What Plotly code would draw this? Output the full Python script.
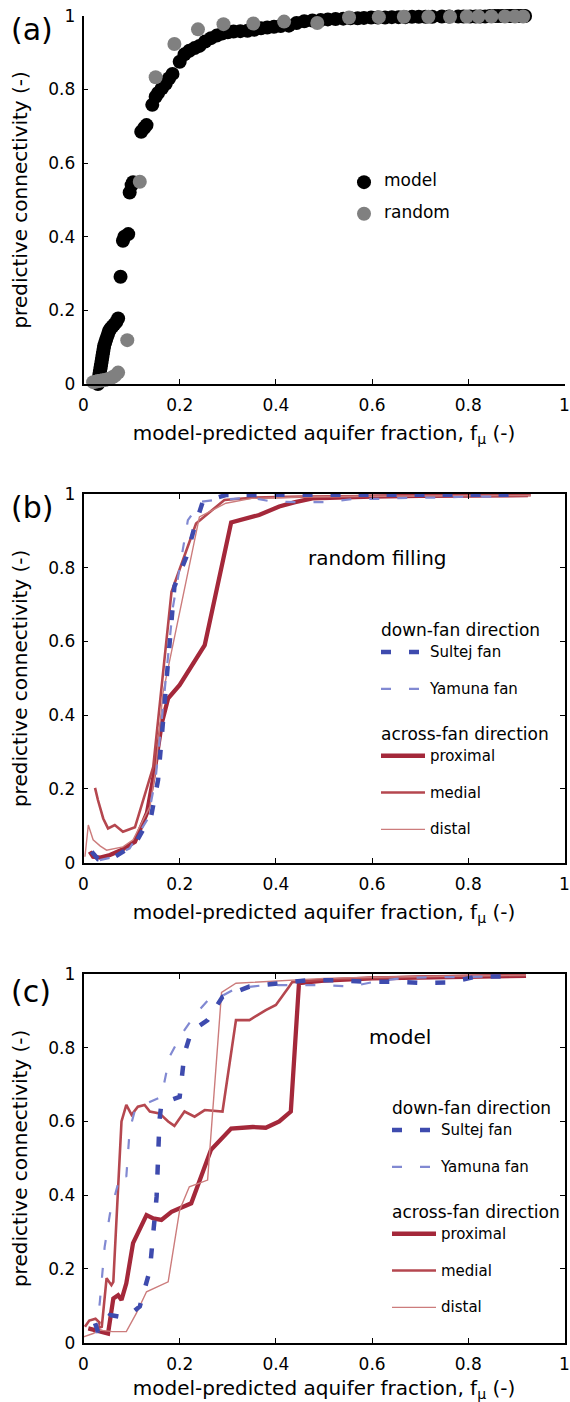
import plotly.graph_objects as go

# ---------------- data ----------------
# panel (a)
model_x = [0.030,0.031,0.032,0.033,0.034,0.035,0.036,0.037,0.038,0.039,0.040,0.041,0.042,0.043,0.045,0.047,0.049,0.051,0.053,0.056,0.060,0.064,0.068,0.072,0.077,0.082,0.085,0.093,0.096,0.100,0.103,0.120,0.126,0.131,0.143,0.150,0.155,0.163,0.171,0.178,0.185,0.200,0.210,0.220,0.231,0.241,0.253,0.265,0.277,0.289,0.300,0.312,0.326,0.341,0.355,0.369,0.382,0.396,0.410,0.427,0.443,0.459,0.476,0.493,0.508,0.524,0.540,0.555,0.570,0.583,0.598,0.612,0.627,0.641,0.655,0.669,0.683,0.697,0.711,0.725,0.745,0.760,0.779,0.790,0.804,0.815,0.825,0.835,0.845,0.855,0.862,0.870,0.878,0.885,0.890,0.897,0.904,0.910,0.915,0.918]
model_y = [0.000,0.008,0.016,0.024,0.032,0.040,0.048,0.056,0.064,0.072,0.080,0.088,0.096,0.104,0.112,0.120,0.128,0.136,0.144,0.150,0.156,0.162,0.168,0.178,0.291,0.389,0.400,0.407,0.520,0.540,0.548,0.685,0.695,0.703,0.758,0.780,0.790,0.803,0.815,0.830,0.842,0.875,0.895,0.905,0.912,0.918,0.930,0.939,0.946,0.952,0.955,0.957,0.958,0.959,0.962,0.966,0.968,0.970,0.972,0.973,0.980,0.985,0.987,0.988,0.990,0.991,0.992,0.993,0.993,0.994,0.995,0.995,0.995,0.996,0.996,0.996,0.997,0.997,0.997,0.997,0.998,0.998,0.998,0.998,0.998,0.998,0.998,0.998,0.999,0.999,0.999,0.999,0.999,0.999,0.999,0.999,0.999,0.999,0.999,0.999]
random_x = [0.020,0.025,0.030,0.035,0.040,0.045,0.050,0.055,0.060,0.065,0.072,0.091,0.117,0.150,0.189,0.238,0.291,0.353,0.417,0.486,0.552,0.614,0.666,0.717,0.762,0.797,0.821,0.848,0.876,0.897,0.914]
random_y = [0.005,0.006,0.008,0.009,0.010,0.011,0.013,0.015,0.018,0.022,0.031,0.119,0.549,0.833,0.923,0.963,0.977,0.979,0.984,0.980,0.995,0.996,0.997,0.997,0.997,0.998,0.998,0.998,0.998,0.998,0.998]

# panel (b) random filling
b_prox_x = [0.013,0.020,0.035,0.055,0.080,0.107,0.132,0.148,0.163,0.176,0.200,0.224,0.252,0.307,0.365,0.407,0.440,0.476,0.510,0.600,0.700,0.800,0.924]
b_prox_y = [0.030,0.016,0.014,0.021,0.035,0.057,0.135,0.251,0.380,0.446,0.482,0.532,0.590,0.923,0.943,0.966,0.978,0.988,0.990,0.993,0.995,0.996,0.997]
b_med_x = [0.024,0.030,0.041,0.051,0.065,0.082,0.107,0.145,0.183,0.234,0.293,0.350,0.450,0.600,0.750,0.930]
b_med_y = [0.203,0.170,0.120,0.093,0.102,0.084,0.096,0.260,0.735,0.920,0.984,0.990,0.993,0.995,0.996,0.997]
b_dist_x = [0.003,0.010,0.020,0.035,0.048,0.082,0.103,0.138,0.150,0.165,0.241,0.296,0.350,0.450,0.600,0.750,0.930]
b_dist_y = [0.016,0.102,0.062,0.045,0.034,0.043,0.062,0.152,0.250,0.459,0.938,0.975,0.988,0.992,0.994,0.995,0.996]
b_sult_x = [0.017,0.030,0.065,0.107,0.141,0.155,0.165,0.179,0.189,0.214,0.231,0.248,0.296,0.400,0.500,0.600,0.700,0.800,0.904]
b_sult_y = [0.030,0.010,0.016,0.050,0.129,0.224,0.378,0.595,0.749,0.830,0.911,0.979,0.997,0.998,0.998,0.998,0.998,0.998,0.998]
b_yam_x = [0.034,0.060,0.096,0.134,0.150,0.162,0.186,0.217,0.245,0.276,0.350,0.393,0.441,0.503,0.566,0.620,0.680,0.735,0.800,0.860]
b_yam_y = [0.007,0.015,0.039,0.120,0.230,0.378,0.694,0.929,0.979,0.984,0.990,0.979,0.978,0.978,0.987,0.987,0.990,0.990,0.993,0.993]

# panel (c) model
c_prox_x = [0.010,0.020,0.035,0.051,0.062,0.072,0.079,0.089,0.103,0.131,0.145,0.162,0.183,0.224,0.265,0.307,0.352,0.379,0.407,0.431,0.448,0.500,0.600,0.700,0.800,0.920]
c_prox_y = [0.039,0.035,0.030,0.025,0.120,0.129,0.116,0.161,0.270,0.346,0.337,0.333,0.355,0.378,0.523,0.581,0.585,0.583,0.600,0.627,0.975,0.982,0.988,0.990,0.993,0.995]
c_med_x = [0.003,0.012,0.025,0.033,0.030,0.038,0.048,0.058,0.062,0.079,0.089,0.100,0.113,0.127,0.138,0.158,0.176,0.189,0.210,0.231,0.252,0.289,0.317,0.345,0.379,0.400,0.427,0.434,0.500,0.600,0.700,0.800,0.920]
c_med_y = [0.043,0.060,0.065,0.055,0.040,0.043,0.175,0.156,0.165,0.600,0.645,0.618,0.640,0.645,0.627,0.622,0.600,0.588,0.627,0.613,0.631,0.627,0.875,0.875,0.902,0.916,0.965,0.978,0.985,0.990,0.993,0.995,0.997]
c_dist_x = [0.000,0.020,0.034,0.060,0.089,0.110,0.131,0.176,0.200,0.220,0.258,0.287,0.317,0.410,0.500,0.600,0.700,0.800,0.920]
c_dist_y = [0.016,0.025,0.034,0.030,0.030,0.080,0.138,0.165,0.360,0.423,0.441,0.950,0.975,0.982,0.988,0.991,0.993,0.995,0.997]
c_sult_x = [0.024,0.030,0.055,0.076,0.100,0.117,0.138,0.152,0.158,0.162,0.185,0.200,0.210,0.224,0.258,0.289,0.345,0.407,0.465,0.524,0.583,0.641,0.700,0.759,0.817,0.876]
c_sult_y = [0.053,0.030,0.075,0.070,0.080,0.098,0.197,0.396,0.604,0.649,0.660,0.667,0.785,0.844,0.875,0.938,0.966,0.976,0.983,0.983,0.979,0.979,0.976,0.977,0.993,0.993]
c_yam_x = [0.027,0.034,0.044,0.055,0.072,0.079,0.089,0.096,0.107,0.131,0.162,0.179,0.203,0.234,0.265,0.289,0.317,0.379,0.438,0.497,0.555,0.610,0.672,0.730,0.788,0.848]
c_yam_y = [0.025,0.111,0.260,0.350,0.432,0.459,0.450,0.577,0.631,0.649,0.667,0.776,0.835,0.893,0.938,0.941,0.961,0.970,0.970,0.970,0.966,0.980,0.990,0.991,0.993,0.993]

tick_vals = [0, 0.2, 0.4, 0.6, 0.8, 1]
tick_text = ["0", "0.2", "0.4", "0.6", "0.8", "1"]

# ---------------- styles ----------------
FONT = "DejaVu Sans"
W, H = 570, 1402
C_PROX = "#A4283A"
C_MED = "#B5474F"
C_DIST = "#CC7C7C"
C_SULT = "#3E4BAE"
C_YAM = "#8189D2"
DASH = "10px,18px"

fig = go.Figure()

# panel (a)
fig.add_trace(go.Scatter(x=model_x, y=model_y, mode="markers", xaxis="x", yaxis="y",
                         marker=dict(size=14, color="black"), cliponaxis=False,
                         name="<span style='font-size:17px'>model</span><br> ", legend="legend"))
fig.add_trace(go.Scatter(x=random_x, y=random_y, mode="markers", xaxis="x", yaxis="y",
                         marker=dict(size=14, color="#808080"), cliponaxis=False,
                         name="<span style='font-size:17px'>random</span><br> ", legend="legend"))


def add_lines(xa, ya, leg, data):
    (px, py), (mx, my), (dx, dy), (sx, sy), (yx, yy) = data
    common = dict(mode="lines", xaxis=xa, yaxis=ya, legend=leg, cliponaxis=True)
    span = "<span style='font-size:15px'>%s</span><br> "
    fig.add_trace(go.Scatter(x=px, y=py, line=dict(color=C_PROX, width=4.3), name=span % "proximal",
                             legendgroup="across" + leg, legendrank=3,
                             legendgrouptitle=dict(text="across-fan direction", font=dict(size=17, family=FONT, color="black")),
                             **common))
    fig.add_trace(go.Scatter(x=mx, y=my, line=dict(color=C_MED, width=2.6), name=span % "medial",
                             legendgroup="across" + leg, legendrank=4, **common))
    fig.add_trace(go.Scatter(x=dx, y=dy, line=dict(color=C_DIST, width=1.4), name=span % "distal",
                             legendgroup="across" + leg, legendrank=5, **common))
    fig.add_trace(go.Scatter(x=yx, y=yy, line=dict(color=C_YAM, width=2.2, dash=DASH), name=span % "Yamuna fan",
                             legendgroup="down" + leg, legendrank=2, **common))
    fig.add_trace(go.Scatter(x=sx, y=sy, line=dict(color=C_SULT, width=4.5, dash=DASH), name=span % "Sultej fan",
                             legendgroup="down" + leg, legendrank=1,
                             legendgrouptitle=dict(text="down-fan direction", font=dict(size=17, family=FONT, color="black")),
                             **common))


add_lines("x2", "y2", "legend2",
          [(b_prox_x, b_prox_y), (b_med_x, b_med_y), (b_dist_x, b_dist_y), (b_sult_x, b_sult_y), (b_yam_x, b_yam_y)])
add_lines("x3", "y3", "legend3",
          [(c_prox_x, c_prox_y), (c_med_x, c_med_y), (c_dist_x, c_dist_y), (c_sult_x, c_sult_y), (c_yam_x, c_yam_y)])

# ---------------- layout ----------------
xdom = [83.5 / W, 564.5 / W]
ydoms = [[1 - 384 / H, 1 - 15.7 / H], [1 - 862.7 / H, 1 - 494 / H], [1 - 1342.7 / H, 1 - 974 / H]]

x_title = "model-predicted aquifer fraction, f<sub>μ</sub> (-)"
y_title = "predictive connectivity (-)"


def xaxis(anchor, mirror):
    return dict(domain=xdom, anchor=anchor, range=[0, 1], tickvals=tick_vals, ticktext=tick_text,
                ticks="inside", ticklen=5, tickwidth=1, tickcolor="black", automargin=False,
                showline=True, linecolor="black", linewidth=1.5, mirror=mirror,
                showgrid=False, zeroline=False, ticklabelstandoff=5, ticklabeloverflow="allow",
                tickfont=dict(family=FONT, size=17, color="black"),
                title=dict(text=x_title, font=dict(family=FONT, size=20, color="black"), standoff=12))


def yaxis(anchor, dom, mirror):
    return dict(domain=dom, anchor=anchor, range=[0, 1], tickvals=tick_vals, ticktext=tick_text,
                ticks="inside", ticklen=5, tickwidth=1, tickcolor="black", automargin=False,
                showline=True, linecolor="black", linewidth=1.5, mirror=mirror,
                showgrid=False, zeroline=False, ticklabelstandoff=3, ticklabeloverflow="allow",
                tickfont=dict(family=FONT, size=17, color="black"),
                title=dict(text=y_title, font=dict(family=FONT, size=20, color="black"), standoff=15))


legend_common = dict(bgcolor="rgba(0,0,0,0)", borderwidth=0, valign="top",
                     font=dict(family=FONT, size=13, color="black"), itemwidth=44,
                     traceorder="grouped", tracegroupgap=5, yanchor="top")

fig.update_layout(
    width=W, height=H, margin=dict(l=0, r=0, t=0, b=0, autoexpand=False),
    paper_bgcolor="white", plot_bgcolor="white",
    font=dict(family=FONT, color="black"),
    xaxis=xaxis("y", False), yaxis=yaxis("x", ydoms[0], False),
    xaxis2=xaxis("y2", "ticks"), yaxis2=yaxis("x2", ydoms[1], "ticks"),
    xaxis3=xaxis("y3", "ticks"), yaxis3=yaxis("x3", ydoms[2], "ticks"),
    legend=dict(x=344 / W, y=1 - 168.5 / H, xanchor="left", yanchor="top", valign="top",
                bgcolor="rgba(0,0,0,0)", font=dict(family=FONT, size=11, color="black"), itemwidth=30),
    legend2=dict(x=376 / W, y=1 - 612 / H, xanchor="left", **legend_common),
    legend3=dict(x=1.0, y=1 - 1090 / H, xanchor="right", **legend_common),
    showlegend=True,
    annotations=[
        dict(text="(a)", x=9 / W, y=1 - 30 / H, xref="paper", yref="paper", xanchor="left", yanchor="middle",
             showarrow=False, font=dict(family=FONT, size=30, color="black")),
        dict(text="(b)", x=9 / W, y=1 - 508 / H, xref="paper", yref="paper", xanchor="left", yanchor="middle",
             showarrow=False, font=dict(family=FONT, size=30, color="black")),
        dict(text="(c)", x=9 / W, y=1 - 991 / H, xref="paper", yref="paper", xanchor="left", yanchor="middle",
             showarrow=False, font=dict(family=FONT, size=30, color="black")),
        dict(text="random filling", x=377.5 / W, y=1 - 558 / H, xref="paper", yref="paper",
             xanchor="center", yanchor="middle", showarrow=False, font=dict(family=FONT, size=20, color="black")),
        dict(text="model", x=399.5 / W, y=1 - 1037 / H, xref="paper", yref="paper",
             xanchor="center", yanchor="middle", showarrow=False, font=dict(family=FONT, size=20, color="black")),
    ],
)

fig.write_html("out.html")
